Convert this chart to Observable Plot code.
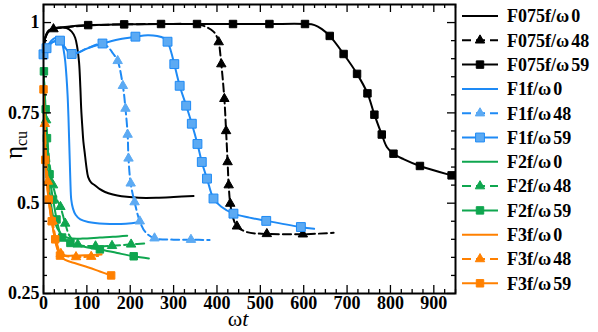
<!DOCTYPE html>
<html><head><meta charset="utf-8">
<script src="https://cdn.jsdelivr.net/npm/d3@7"></script>
<script src="https://cdn.jsdelivr.net/npm/@observablehq/plot@0.6"></script>
<style>
body{margin:0;background:#fff;}
#wrap{position:relative;width:598px;height:332px;overflow:hidden;}
#legend{position:absolute;left:455px;top:0;}
</style></head><body><div id="wrap"></div>
<script>
// ---------- data ----------
const seriesNames = ["F075f/ω0","F075f/ω48","F075f/ω59","F1f/ω0","F1f/ω48","F1f/ω59","F2f/ω0","F2f/ω48","F2f/ω59","F3f/ω0","F3f/ω48","F3f/ω59"];
const xTicks = [0,100,200,300,400,500,600,700,800,900];
const yTicks = [0.25,0.5,0.75,1];

const F075_w0 = [[0,0.925],[4,0.958],[10,0.975],[20,0.983],[35,0.986],[53,0.985],[65,0.975],[73,0.958],[78,0.93],[82,0.89],[85,0.82],[87,0.76],[89.6,0.71],[92,0.67],[95,0.64],[99,0.60],[103,0.572],[110,0.557],[119,0.549],[130,0.539],[142,0.531],[160,0.524],[180,0.519],[220,0.515],[260,0.515],[300,0.517],[346,0.52]];
const F075_w48 = [[0,0.925],[5,0.96],[12,0.975],[23,0.982],[60,0.988],[103,0.992],[186,0.995],[271,0.996],[340,0.996],[360,0.994],[375,0.988],[392,0.975],[400,0.96],[404,0.946],[410,0.885],[417,0.789],[421,0.70],[424.5,0.614],[427,0.55],[430.6,0.499],[437,0.46],[446,0.436],[469,0.42],[515,0.415],[598,0.414],[669,0.418]];
const F075_w48_marks = [[23,0.982],[404,0.946],[410,0.885],[417,0.789],[421,0.70],[424.5,0.614],[427,0.55],[430.6,0.499],[446,0.436],[515,0.415],[598,0.414]];
const F075_w59 = [[0,0.925],[5,0.962],[12,0.978],[23,0.983],[60,0.989],[103,0.993],[186,0.995],[271,0.996],[354,0.996],[437,0.996],[521,0.996],[603,0.996],[625,0.993],[642,0.982],[660,0.963],[692,0.913],[723,0.858],[747,0.804],[763,0.745],[780,0.69],[792,0.655],[807,0.637],[830,0.622],[868,0.603],[941,0.577],[950,0.574]];
const F075_w59_marks = [[103,0.993],[186,0.995],[271,0.996],[354,0.996],[437,0.996],[521,0.996],[603,0.996],[660,0.963],[692,0.913],[723,0.858],[747,0.804],[763,0.745],[780,0.69],[807,0.637],[868,0.603],[941,0.577]];

const F1_w0 = [[0,0.90],[8,0.93],[18,0.95],[28,0.958],[35,0.958],[42,0.947],[47,0.92],[50,0.894],[53,0.85],[55.5,0.80],[57.5,0.74],[59,0.68],[60.5,0.62],[62,0.56],[64,0.51],[68,0.485],[74,0.468],[85,0.455],[103,0.448],[140,0.443],[190,0.443],[220,0.448]];
const F1_w48 = [[0,0.912],[7,0.929],[20,0.945],[38,0.95],[50,0.93],[65,0.913],[80,0.917],[100,0.928],[136,0.942],[149,0.932],[160,0.915],[171,0.894],[183,0.825],[189,0.762],[194,0.69],[196,0.624],[201,0.555],[210,0.503],[222,0.45],[235,0.42],[256,0.403],[300,0.399],[340,0.399],[383,0.398]];
const F1_w48_marks = [[171,0.894],[183,0.825],[189,0.762],[194,0.69],[196,0.624],[201,0.555],[210,0.503],[222,0.45],[256,0.403],[340,0.399]];
const F1_w59 = [[0,0.912],[7,0.929],[20,0.945],[38,0.95],[50,0.93],[65,0.913],[80,0.917],[100,0.928],[136,0.942],[175,0.954],[212,0.961],[240,0.965],[262,0.963],[278,0.957],[286,0.947],[294,0.92],[301.6,0.885],[314,0.825],[329,0.77],[342,0.72],[355,0.664],[365,0.614],[377,0.568],[392,0.513],[410,0.49],[438,0.471],[475,0.46],[513.6,0.451],[593.5,0.434],[624,0.429]];
const F1_w59_marks = [[0,0.912],[7,0.929],[38,0.95],[65,0.913],[136,0.942],[212,0.961],[286,0.947],[301.6,0.885],[314,0.825],[329,0.77],[342,0.72],[355,0.664],[365,0.614],[377,0.568],[392,0.513],[438,0.471],[513.6,0.451],[593.5,0.434]];

const F2_w0 = [[0,0.87],[2,0.80],[4,0.72],[7,0.64],[11,0.57],[16,0.51],[23,0.46],[32,0.43],[45,0.41],[60,0.403],[90,0.402],[130,0.405],[160,0.407],[193,0.41]];
const F2_w48 = [[0,0.87],[3,0.80],[6,0.73],[10,0.66],[15,0.60],[22,0.55],[31,0.51],[39,0.49],[50,0.444],[60,0.41],[79,0.386],[120,0.381],[158,0.382],[202,0.386],[239,0.389]];
const F2_w48_marks = [[6,0.73],[22,0.55],[39,0.49],[50,0.444],[79,0.386],[120,0.381],[158,0.382],[202,0.386]];
const F2_w59 = [[0,0.865],[3,0.80],[6,0.74],[9,0.67],[13,0.60],[18,0.54],[25,0.49],[33,0.44],[43,0.405],[62,0.39],[90,0.38],[130,0.372],[170,0.362],[208,0.353],[243,0.347]];
const F2_w59_marks = [[1,0.865],[5,0.76],[8,0.68],[14,0.58],[22,0.51],[30,0.455],[43,0.405],[62,0.39],[130,0.372],[208,0.353]];

const F3_w0 = [[0,0.82],[2,0.74],[4,0.66],[7,0.58],[11,0.52],[16,0.47],[22,0.43],[28,0.39],[35,0.365],[45,0.356],[70,0.355],[100,0.356],[134,0.358]];
const F3_w48 = [[0,0.82],[3,0.72],[6,0.63],[10,0.56],[15,0.50],[21,0.45],[27,0.41],[33,0.38],[40,0.36],[60,0.352],[90,0.351],[126,0.354]];
const F3_w48_marks = [[3,0.72],[10,0.56],[21,0.45],[40,0.36],[75,0.351],[110,0.352]];
const F3_w59 = [[0,0.815],[2,0.72],[4,0.62],[8,0.55],[13,0.50],[19,0.45],[25,0.41],[31,0.38],[38,0.355],[50,0.343],[75,0.333],[104,0.322],[130,0.311],[156,0.30]];
const F3_w59_marks = [[0,0.815],[4,0.62],[12,0.51],[19,0.45],[27,0.40],[38,0.355],[156,0.30]];

// ---------- styles ----------
const BLACK="#000000", BLUE="#1E8AF5", LBLUE="#5CAAF3", GREEN="#0FA64F", ORANGE="#FF8000";
const series = [
  {line:F075_w0,  marks:null,           color:BLACK,  dash:null,  sym:null,       fill:BLACK,  mstroke:BLACK},
  {line:F075_w48, marks:F075_w48_marks, color:BLACK,  dash:"8,4", sym:"triangle", fill:BLACK,  mstroke:BLACK},
  {line:F075_w59, marks:F075_w59_marks, color:BLACK,  dash:null,  sym:"square",   fill:BLACK,  mstroke:BLACK},
  {line:F1_w0,    marks:null,           color:BLUE,   dash:null,  sym:null,       fill:BLUE,   mstroke:BLUE},
  {line:F1_w48,   marks:F1_w48_marks,   color:BLUE,   dash:"8,4", sym:"triangle", fill:LBLUE,  mstroke:LBLUE},
  {line:F1_w59,   marks:F1_w59_marks,   color:BLUE,   dash:null,  sym:"square",   fill:LBLUE,  mstroke:BLUE},
  {line:F2_w0,    marks:null,           color:GREEN,  dash:null,  sym:null,       fill:GREEN,  mstroke:GREEN},
  {line:F2_w48,   marks:F2_w48_marks,   color:GREEN,  dash:"8,4", sym:"triangle", fill:GREEN,  mstroke:GREEN},
  {line:F2_w59,   marks:F2_w59_marks,   color:GREEN,  dash:null,  sym:"square",   fill:GREEN,  mstroke:GREEN},
  {line:F3_w0,    marks:null,           color:ORANGE, dash:null,  sym:null,       fill:ORANGE, mstroke:ORANGE},
  {line:F3_w48,   marks:F3_w48_marks,   color:ORANGE, dash:"8,4", sym:"triangle", fill:ORANGE, mstroke:ORANGE},
  {line:F3_w59,   marks:F3_w59_marks,   color:ORANGE, dash:null,  sym:"square",   fill:ORANGE, mstroke:ORANGE}
];
const symR = (s, i) => s === "square" ? (i===5 ? 5.0 : 4.2) : 3.5;

const W=598, H=332, mL=43, mR=143, mT=4, mB=39;
const innerW=W-mL-mR, innerH=H-mT-mB;
const xMinor = d3.range(0, 951, 25).filter(v => v % 100 !== 0);
const yMinor = d3.range(6, 21).map(k => +(k*0.05).toFixed(2)).filter(v => Math.abs(v*4 - Math.round(v*4)) > 1e-6);

const marks = [];
series.forEach((s, i) => {
  marks.push(Plot.line(s.line, {x: d=>d[0], y: d=>d[1], stroke: s.color, strokeWidth: 2, strokeDasharray: s.dash, curve: "catmull-rom", clip: true}));
  if (s.marks) marks.push(Plot.dot(s.marks, {x: d=>d[0], y: d=>d[1], symbol: s.sym, r: symR(s.sym, i), fill: s.fill, stroke: s.mstroke, strokeWidth: 1}));
});
// inward ticks on all four sides
const tk = 1.3;
marks.push(
  Plot.tickX(xTicks, {x: d=>d, insetTop: innerH-8, strokeWidth: tk}),
  Plot.tickX(xTicks, {x: d=>d, insetBottom: innerH-8, strokeWidth: tk}),
  Plot.tickX(xMinor, {x: d=>d, insetTop: innerH-4, strokeWidth: tk}),
  Plot.tickX(xMinor, {x: d=>d, insetBottom: innerH-4, strokeWidth: tk}),
  Plot.tickY(yTicks, {y: d=>d, insetRight: innerW-8, strokeWidth: tk}),
  Plot.tickY(yTicks, {y: d=>d, insetLeft: innerW-8, strokeWidth: tk}),
  Plot.tickY(yMinor, {y: d=>d, insetRight: innerW-4, strokeWidth: tk}),
  Plot.tickY(yMinor, {y: d=>d, insetLeft: innerW-4, strokeWidth: tk}),
  Plot.frame({stroke: "#000", strokeWidth: 2}),
  Plot.axisX(xTicks, {tickSize: 0, tickPadding: 3, fontSize: 18, fontWeight: "bold", label: null, tickFormat: d=>String(d)}),
  Plot.axisY(yTicks, {tickSize: 0, tickPadding: 4, fontSize: 18, fontWeight: "bold", label: null, tickFormat: d=>String(d)})
);

const chart = Plot.plot({
  width: W, height: H,
  marginLeft: mL, marginRight: mR, marginTop: mT, marginBottom: mB,
  x: {domain: [0, 950]},
  y: {domain: [0.25, 1.05]},
  style: {fontFamily: "'Liberation Serif', 'DejaVu Serif', serif", background: "#fff", color: "#000", overflow: "visible"},
  marks
});
const wrap = document.getElementById("wrap");
wrap.appendChild(chart);

// axis titles
const svg = d3.select(chart);
const xl = svg.append("text").attr("x", 238).attr("y", 326).attr("text-anchor", "middle")
  .attr("font-family", "'Liberation Serif', serif").attr("font-size", 22).attr("fill", "#000");
xl.append("tspan").text("ω");
xl.append("tspan").attr("font-style", "italic").text("t");
const yl = svg.append("text").attr("transform", "translate(22,145) rotate(-90)").attr("text-anchor", "middle")
  .attr("font-family", "'Liberation Serif', serif").attr("font-size", 25).attr("fill", "#000");
yl.append("tspan").text("η");
yl.append("tspan").attr("font-size", 16).attr("dy", 5).text("cu");

// legend
const lg = d3.select(wrap).append("svg").attr("id", "legend").attr("width", 143).attr("height", 332);
series.forEach((s, i) => {
  const y = 16 + i * 24.3;
  const g = lg.append("g").attr("transform", `translate(0,${y})`);
  g.append("line").attr("x1", 7).attr("x2", 43).attr("y1", 0).attr("y2", 0)
    .attr("stroke", s.color).attr("stroke-width", 2).attr("stroke-dasharray", s.dash ? "9,5" : null);
  if (s.sym) {
    const r = symR(s.sym, i);
    const p = d3.symbol(s.sym === "square" ? d3.symbolSquare : d3.symbolTriangle, Math.PI * r * r)();
    g.append("path").attr("d", p).attr("transform", "translate(25,0)").attr("fill", s.fill).attr("stroke", s.mstroke);
  }
  const name = seriesNames[i];
  const k = name.indexOf("ω") + 1;
  const t = g.append("text").attr("x", 52).attr("y", 0).attr("dy", "0.35em")
    .attr("font-family", "'Liberation Serif', serif").attr("font-weight", "bold").attr("font-size", 18);
  t.append("tspan").text(name.slice(0, k));
  t.append("tspan").attr("dx", 2).text(name.slice(k));
});
</script></body></html>
